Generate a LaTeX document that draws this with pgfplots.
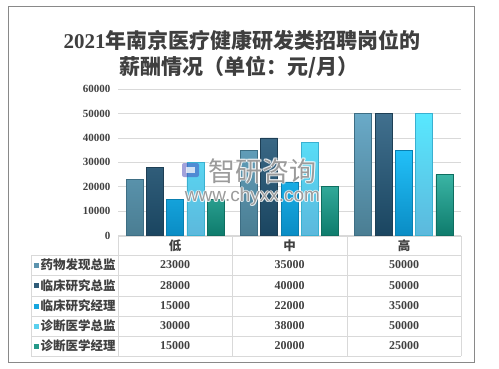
\documentclass[border=0pt]{standalone}
\usepackage{fontspec}
\setmainfont{Liberation Serif}
\newfontfamily\cjk{Noto Sans CJK SC}
\newfontfamily\wmfont{Liberation Sans}
\usepackage{pgfplots}
\usepackage{pgfplotstable}
\pgfplotsset{compat=1.18}
\definecolor{titlegray}{HTML}{3F3F3F}
\definecolor{tickgray}{HTML}{404040}
\definecolor{gridgray}{HTML}{D9D9D9}
\definecolor{framegray}{HTML}{898989}
\definecolor{wmgray}{HTML}{8A8A8A}
\definecolor{aT}{HTML}{6AAAC8}\definecolor{aB}{HTML}{4A7D92}\definecolor{aD}{HTML}{3E6E84}\definecolor{aM}{HTML}{5C93AE}
\definecolor{bT}{HTML}{41708E}\definecolor{bB}{HTML}{1A4560}\definecolor{bD}{HTML}{1E3F55}\definecolor{bM}{HTML}{2F5B78}
\definecolor{cT}{HTML}{22C0F8}\definecolor{cB}{HTML}{0A8CC4}\definecolor{cD}{HTML}{0A7FB0}\definecolor{cM}{HTML}{16A6DE}
\definecolor{dT}{HTML}{58E8FF}\definecolor{dB}{HTML}{5CB8DC}\definecolor{dD}{HTML}{3AB0D0}\definecolor{dM}{HTML}{5AD0EE}
\definecolor{eT}{HTML}{3AB4A4}\definecolor{eB}{HTML}{0E7B6C}\definecolor{eD}{HTML}{0E6E60}\definecolor{eM}{HTML}{249888}
\pgfplotstableread{
cat s1 s2 s3 s4 s5
0 23000 28000 15000 30000 15000
1 35000 40000 22000 38000 20000
2 50000 50000 35000 50000 25000
}\data
\begin{document}
\begin{tikzpicture}[x=1pt,y=1pt]
\path[use as bounding box] (0,0) rectangle (499,368);
\fill[white] (0,0) rectangle (499,368);
\draw[framegray, line width=1pt] (8,362) rectangle (474,6);
% title
\node[font=\cjk\bfseries\fontsize{21}{24}\selectfont, text=titlegray] at (242,328) {{\rmfamily\bfseries 2021}年南京医疗健康研发类招聘岗位的};
\node[font=\cjk\bfseries\fontsize{21}{24}\selectfont, text=titlegray] at (239,301) {薪酬情况（单位：元/月）};
\begin{axis}[
  at={(118pt,132.3pt)}, anchor=south west, scale only axis,
  width=343pt, height=146.7pt,
  xmin=-0.5, xmax=2.5, ymin=0, ymax=60000,
  ytick={0,10000,...,60000}, xtick=\empty,
  ymajorgrids, grid style={draw=gridgray, line width=0.8pt},
  axis line style={draw=none}, major tick length=0pt,
  scaled y ticks=false,
  /pgf/number format/.cd, set thousands separator={}, assume math mode=true, /pgfplots/.cd,
  yticklabel style={font=\bfseries\fontsize{11}{12}\selectfont, text=tickgray, anchor=east, xshift=-4pt},
  ybar=3.3pt, bar width=17pt,
  clip=false,
]
\addplot[draw=aD, line width=0.7pt, top color=aT, bottom color=aB] table[x=cat,y=s1] {\data};
\addplot[draw=bD, line width=0.7pt, top color=bT, bottom color=bB] table[x=cat,y=s2] {\data};
\addplot[draw=cD, line width=0.7pt, top color=cT, bottom color=cB] table[x=cat,y=s3] {\data};
\addplot[draw=dD, line width=0.7pt, top color=dT, bottom color=dB] table[x=cat,y=s4] {\data};
\addplot[draw=eD, line width=0.7pt, top color=eT, bottom color=eB] table[x=cat,y=s5] {\data};
\end{axis}
% watermark with a light halo
\foreach \dx/\dy in {-1/0,1/0,0/-1,0/1,-0.8/-0.8,0.8/0.8,-0.8/0.8,0.8/-0.8}{
  \node[opacity=0.55, text=white, font=\cjk\fontsize{27}{28}\selectfont] at (262.5+\dx,197+\dy) {智研咨询};
  \node[opacity=0.55, text=white, font=\wmfont\fontsize{19}{20}\selectfont] at (252.5+\dx,171+\dy) {www.chyxx.com};
}
\node[opacity=0.85, text=wmgray, font=\cjk\fontsize{27}{28}\selectfont] at (262.5,197) {智研咨询};
\node[opacity=0.85, text=wmgray, font=\wmfont\fontsize{19}{20}\selectfont] at (252.5,171) {www.chyxx.com};
\fill[opacity=0.5, blue!45!gray, rounded corners=2pt] (182,191) rectangle (199,205);
\fill[opacity=0.75, white] (186,195) rectangle (195,201);
% table grid
\begin{scope}[draw=gridgray, line width=0.9pt]
\draw (118,132) -- (461,132);
\foreach \y in {255,275,296,316,336,356} \draw (31,368-\y) -- (461,368-\y);
\foreach \x in {118,232,347,461} \draw (\x,132) -- (\x,12);
\draw (31,113) -- (31,12);
\end{scope}
% header
\foreach \x/\t in {175/低,289.5/中,404/高}
  \node[font=\cjk\bfseries\fontsize{12.5}{13}\selectfont, text=tickgray] at (\x,368-246) {\t};
% rows
\foreach \y/\c/\t/\a/\b/\d in {
  265/aM/药物发现总监/23000/35000/50000,
  285.5/bM/临床研究总监/28000/40000/50000,
  306/cM/临床研究经理/15000/22000/35000,
  326/dM/诊断医学总监/30000/38000/50000,
  346/eM/诊断医学经理/15000/20000/25000}{
  \fill[\c] (34,368-\y-2.5) rectangle (39,368-\y+2.5);
  \node[anchor=west, inner sep=0pt, font=\cjk\bfseries\fontsize{12.5}{13}\selectfont, text=tickgray] at (40.5,368-\y) {\t};
  \node[font=\bfseries\fontsize{12}{13}\selectfont, text=tickgray] at (175,368-\y) {\a};
  \node[font=\bfseries\fontsize{12}{13}\selectfont, text=tickgray] at (289.5,368-\y) {\b};
  \node[font=\bfseries\fontsize{12}{13}\selectfont, text=tickgray] at (404,368-\y) {\d};
}
\end{tikzpicture}
\end{document}
